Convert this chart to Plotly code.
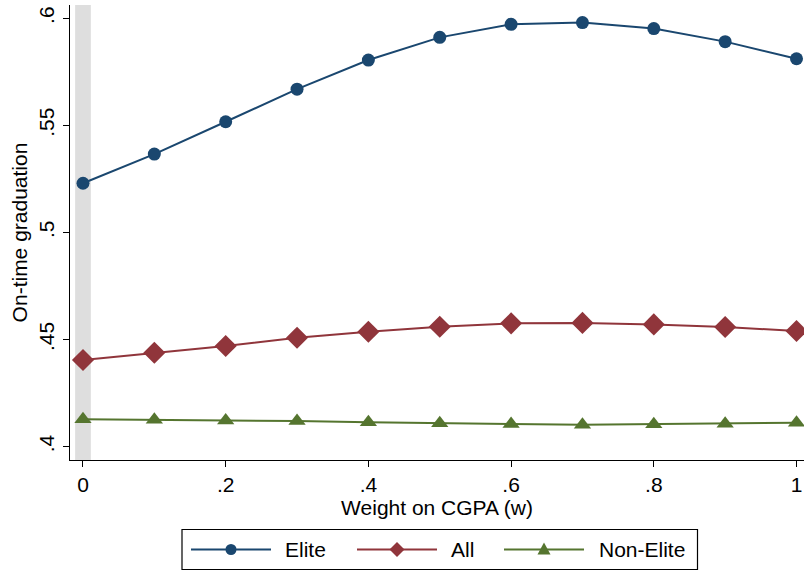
import plotly.graph_objects as go

# Weight placed on CGPA
weights = [0.0, 0.1, 0.2, 0.3, 0.4, 0.5, 0.6, 0.7, 0.8, 0.9, 1.0]

# On-time graduation rates by group
elite = [0.523, 0.5366, 0.5517, 0.5669, 0.5805, 0.5911, 0.5972, 0.5980, 0.5952, 0.5891, 0.5811]
all_students = [0.4405, 0.4439, 0.4470, 0.4509, 0.4537, 0.4560, 0.4576, 0.4578, 0.4571, 0.4559, 0.4540]
non_elite = [0.4128, 0.4126, 0.4122, 0.4120, 0.4114, 0.4109, 0.4106, 0.4103, 0.4105, 0.4107, 0.4112]

series_names = ["Elite", "All", "Non-Elite"]

x_ticks = [0, 0.2, 0.4, 0.6, 0.8, 1.0]
x_ticktext = ["0", ".2", ".4", ".6", ".8", "1"]
y_ticks = [0.4, 0.45, 0.5, 0.55, 0.6]
y_ticktext = [".4", ".45", ".5", ".55", ".6"]

NAVY = "#1a476f"
MAROON = "#90353b"
GREEN = "#55752f"
FONT = "Liberation Sans, Arial, sans-serif"

W, H = 804, 571
M_L, M_R, M_T, M_B = 70, 0, 5, 111
PLOT_W = W - M_L - M_R
PLOT_H = H - M_T - M_B


def paper_x(px):
    return (px - M_L) / PLOT_W


def paper_y(py):
    return (H - M_B - py) / PLOT_H


fig = go.Figure()

styles = [
    (elite, NAVY, "circle", 13),
    (all_students, MAROON, "diamond", 17),
    (non_elite, GREEN, "triangle-up", 15),
]
for name, (vals, color, symbol, size) in zip(series_names, styles):
    fig.add_trace(go.Scatter(
        x=weights, y=vals, name=name, mode="lines+markers",
        line=dict(color=color, width=2),
        marker=dict(symbol=symbol, size=size, color=color),
        showlegend=False,
    ))

# Shaded band at w = 0
shapes = [dict(
    type="rect", xref="x", yref="paper",
    x0=-0.011, x1=0.011, y0=0, y1=1,
    fillcolor="#dedede", line=dict(width=0), layer="below",
)]

# Legend box below the plot
leg_top, leg_bot, leg_left, leg_right = 529.5, 569.5, 182, 697.5
leg_mid = (leg_top + leg_bot) / 2
shapes.append(dict(
    type="rect", xref="paper", yref="paper",
    x0=paper_x(leg_left), x1=paper_x(leg_right),
    y0=paper_y(leg_bot), y1=paper_y(leg_top),
    line=dict(color="black", width=1.2), fillcolor="rgba(0,0,0,0)",
))

marker_paths = {
    "circle": None,
    "diamond": "M -7.5 0 L 0 7.5 L 7.5 0 L 0 -7.5 Z",
    "triangle-up": "M -6.5 -5 L 6.5 -5 L 0 7 Z",
}
legend_entries = [
    (series_names[0], NAVY, "circle", 191, 283),
    (series_names[1], MAROON, "diamond", 357, 449),
    (series_names[2], GREEN, "triangle-up", 504, 597),
]
annotations = []
for name, color, symbol, x_start, text_x in legend_entries:
    x_end = x_start + 80
    x_mid = (x_start + x_end) / 2
    shapes.append(dict(
        type="line", xref="paper", yref="paper",
        x0=paper_x(x_start), x1=paper_x(x_end),
        y0=paper_y(leg_mid), y1=paper_y(leg_mid),
        line=dict(color=color, width=2),
    ))
    if symbol == "circle":
        shapes.append(dict(
            type="circle", xref="paper", yref="paper",
            xsizemode="pixel", ysizemode="pixel",
            xanchor=paper_x(x_mid), yanchor=paper_y(leg_mid),
            x0=-5.5, x1=5.5, y0=-5.5, y1=5.5,
            fillcolor=color, line=dict(width=0),
        ))
    else:
        shapes.append(dict(
            type="path", xref="paper", yref="paper",
            xsizemode="pixel", ysizemode="pixel",
            xanchor=paper_x(x_mid), yanchor=paper_y(leg_mid),
            path=marker_paths[symbol],
            fillcolor=color, line=dict(width=0),
        ))
    annotations.append(dict(
        text=name, xref="paper", yref="paper",
        x=paper_x(text_x), y=paper_y(leg_mid),
        xanchor="left", yanchor="middle", showarrow=False,
        font=dict(family=FONT, size=21, color="black"),
    ))

fig.update_layout(
    width=W, height=H,
    margin=dict(l=M_L, r=M_R, t=M_T, b=M_B),
    paper_bgcolor="white", plot_bgcolor="white",
    font=dict(family=FONT, size=21, color="black"),
    showlegend=False,
    shapes=shapes,
    annotations=annotations,
    xaxis=dict(
        range=[-0.0182, 1.0105], showgrid=False, zeroline=False,
        showline=True, linecolor="black", linewidth=1.3,
        ticks="outside", ticklen=6, tickcolor="black", tickwidth=1.3,
        tickvals=x_ticks, ticktext=x_ticktext,
        tickfont=dict(size=21),
        title=dict(text="Weight on CGPA (w)", font=dict(size=21), standoff=4),
    ),
    yaxis=dict(
        range=[0.3938, 0.6062], showgrid=False, zeroline=False,
        showline=True, linecolor="black", linewidth=1.3,
        ticks="outside", ticklen=6, tickcolor="black", tickwidth=1.3,
        tickvals=y_ticks, ticktext=y_ticktext, tickangle=-90,
        tickfont=dict(size=21),
        title=dict(text="On-time graduation", font=dict(size=21), standoff=2),
    ),
)

fig.write_html("out.html")
